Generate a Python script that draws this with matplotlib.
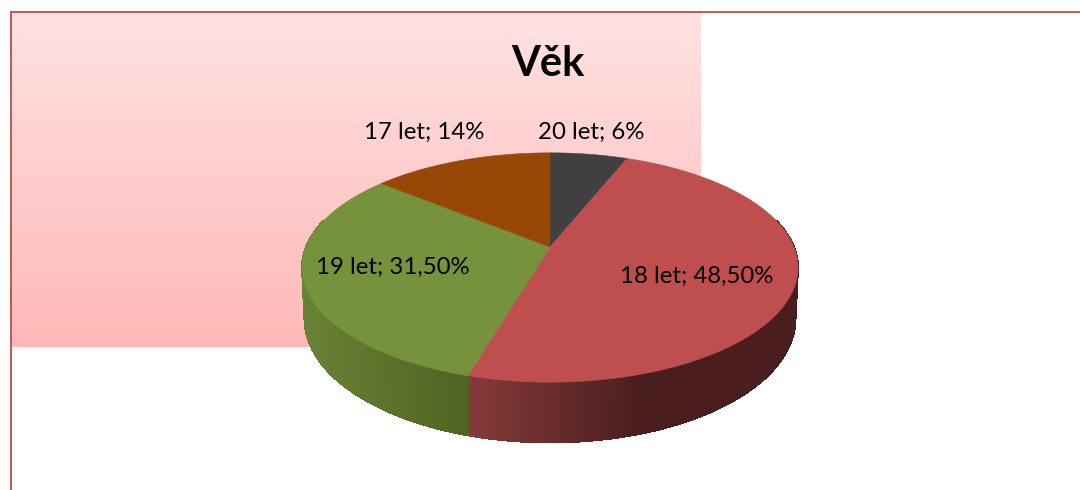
import numpy as np
import matplotlib
matplotlib.use("Agg")
import matplotlib.pyplot as plt

plt.rcParams['font.family'] = ['Lato', 'DejaVu Sans']

# data
categories = ['20 let', '18 let', '19 let', '17 let']
values = [6, 48.5, 31.5, 14]
value_labels = ['6%', '48,50%', '31,50%', '14%']
top_colors = ['#404040', '#BE4F4E', '#76923C', '#974806']

# label centres in pixels
label_pos = [(591, 132), (697, 276), (393, 267), (424, 132)]

# pie geometry (perspective of a tilted disc)
cx, cy = 550, 247
rx, ry = 244, 111
k = 0.179
depth = 49.5


def project(theta):
    # theta is clockwise from the top, in radians
    u = np.sin(theta)
    v = np.cos(theta)
    w = 1 + k * v
    return cx + rx * u / w, cy - ry * v / w, depth / w


def side_color(name, x):
    # side gets darker going right, like the Excel 3D shading
    if name == '18 let':
        t = np.clip((x - 468) / 170, 0, 1)
        c0, c1 = np.array([0x85, 0x3A, 0x3A]), np.array([0x4A, 0x1E, 0x1E])
    elif name == '19 let':
        t = np.clip((x - 303) / 165, 0, 1)
        c0, c1 = np.array([0x68, 0x82, 0x35]), np.array([0x4F, 0x63, 0x22])
    elif name == '17 let':
        t = 0
        c0, c1 = np.array([0x6E, 0x34, 0x04]), np.array([0x6E, 0x34, 0x04])
    else:
        t = 0
        c0, c1 = np.array([0x2E, 0x2E, 0x2E]), np.array([0x2E, 0x2E, 0x2E])
    return (c0 + (c1 - c0) * t) / 255


fig = plt.figure(figsize=(10.8, 4.9), dpi=100)
ax = fig.add_axes([0, 0, 1, 1])
ax.set_xlim(0, 1080)
ax.set_ylim(490, 0)
ax.axis('off')

# pink gradient plot area
grad = np.zeros((256, 1, 3))
top = np.array([0xFF, 0xE2, 0xE2]) / 255
bottom = np.array([0xFF, 0xB8, 0xB8]) / 255
for i in range(256):
    grad[i, 0] = top + (bottom - top) * i / 255
ax.imshow(grad, extent=(10, 701, 347, 13), aspect='auto', zorder=1)
ax.set_xlim(0, 1080)
ax.set_ylim(490, 0)

# chart frame
ax.plot([10.5, 10.5, 1080], [490, 12.5, 12.5], color='#BE5A58', lw=1.4, zorder=2,
        solid_joinstyle='miter')

# wedges
edges = np.cumsum([0] + values) / sum(values) * 2 * np.pi

# side first, only the part facing us
for i, name in enumerate(categories):
    start = max(edges[i], np.pi * 0.42)
    end = min(edges[i + 1], np.pi * 1.58)
    if end <= start:
        continue
    n = max(int((end - start) / 0.012), 2)
    th = np.linspace(start, end, n + 1)
    xs, ys, ts = project(th)
    # bottom rim sits a bit narrower than the top one
    bx = cx + (xs - cx) * 0.99
    for j in range(n):
        qx = [xs[j], xs[j + 1], bx[j + 1], bx[j]]
        qy = [ys[j], ys[j + 1], ys[j + 1] + ts[j + 1], ys[j] + ts[j]]
        c = side_color(name, (xs[j] + xs[j + 1]) / 2)
        ax.fill(qx, qy, facecolor=c, edgecolor=c, lw=0.6, zorder=3, antialiased=False)

# top of the pie
for i, name in enumerate(categories):
    th = np.linspace(edges[i], edges[i + 1], 200)
    xs, ys, ts = project(th)
    ax.fill(np.r_[cx, xs], np.r_[cy, ys], facecolor=top_colors[i],
            edgecolor=top_colors[i], lw=0.4, zorder=4)

# labels
for name, val, pos in zip(categories, value_labels, label_pos):
    ax.text(pos[0], pos[1], name + '; ' + val, fontsize=17.3, color='black',
            ha='center', va='center', zorder=5)

ax.text(548, 64, 'Věk', fontsize=30, fontweight='bold', color='black',
        ha='center', va='center', zorder=5)

fig.savefig('out.png', dpi=100)
